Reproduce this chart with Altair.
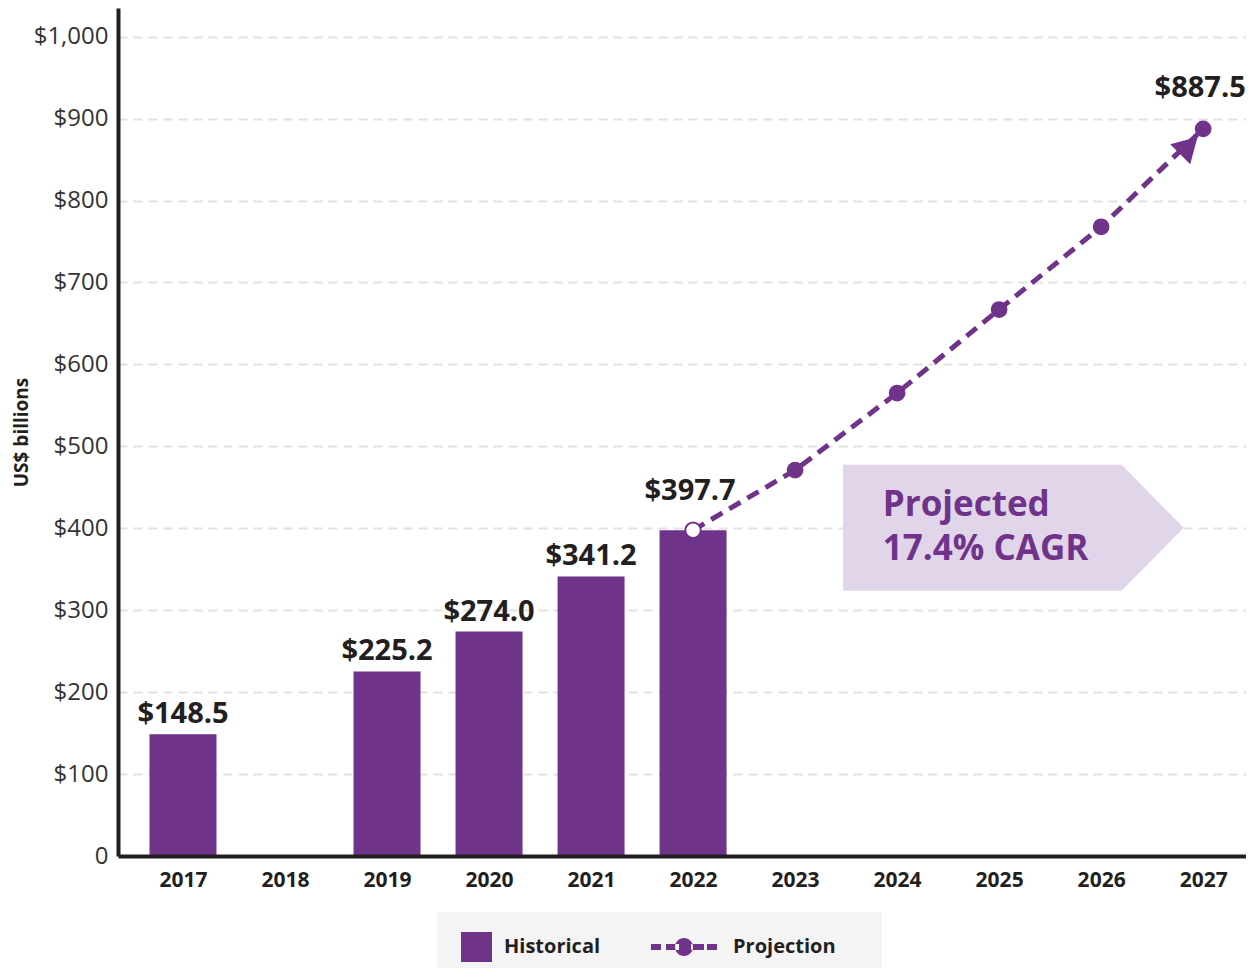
import altair as alt
import pandas as pd

PURPLE = "#70338a"
LIGHT = "#e1d5ea"
DARK = "#231f20"
FONT = "Open Sans"

hist_years = [2017, 2019, 2020, 2021, 2022]
hist_values = [148.5, 225.2, 274.0, 341.2, 397.7]
proj_years = [2022, 2023, 2024, 2025, 2026, 2027]
proj_values = [397.7, 471.0, 565.0, 667.0, 768.0, 887.5]
x_ticks = list(range(2017, 2028))
y_ticks = list(range(0, 1001, 100))
series_names = ["Historical", "Projection"]
cagr_lines = ["Projected", "17.4% CAGR"]
cagr_x = [2023.86, 2023.86]
cagr_y = [428.6, 374.8]
callout_x = [2023.47, 2026.20, 2026.81]
callout_top = [477.4, 477.4, 400.5]
callout_bottom = [323.6, 323.6, 400.5]
arrow_x = [2026.86]
arrow_y = [867.0]

hist_df = pd.DataFrame({"year": hist_years, "value": hist_values})
proj_df = pd.DataFrame({"year": proj_years, "value": proj_values})
callout_df = pd.DataFrame({"year": callout_x, "value": callout_top, "value2": callout_bottom})
cagr_df = pd.DataFrame({"year": cagr_x, "value": cagr_y, "label": cagr_lines})
arrow_df = pd.DataFrame({"year": arrow_x, "value": arrow_y})
legend_df = pd.DataFrame({"series": series_names, "year": [2017, 2017], "value": [0, 0]})

xs = alt.Scale(domain=[2016.363, 2027.42], nice=False, zero=False, padding=0)
ys = alt.Scale(domain=[0, 1035], nice=False, zero=False, padding=0)

SQ_PATH = "M-1.1,-1.5H2.0V1.5H-1.1Z"
PROJ_PATH = ("M-5.0,-0.3H-4.0V0.3H-5.0Z M-3.5,-0.3H-2.2V0.3H-3.5Z "
             "M-1.0,-0.3H0.3V0.3H-1.0Z M0.6,-0.3H1.6V0.3H0.6Z "
             "M-2.6,0A0.9,0.9 0 1,0 -0.8,0A0.9,0.9 0 1,0 -2.6,0Z "
             "M0,-1.5L0,-1.5Z M0,1.5L0,1.5Z M15.6,0L15.6,0Z")

x_axis = alt.Axis(values=x_ticks, format="d", title=None, grid=False,
                  labelFont=FONT, labelFontSize=21, labelFontWeight="bold",
                  labelColor=DARK, labelPadding=13, tickSize=0,
                  domainColor=DARK, domainWidth=4, zindex=1)
y_axis = alt.Axis(values=y_ticks, title="US$ billions",
                  labelExpr="datum.value == 0 ? '0' : '$' + format(datum.value, ',')",
                  labelFont=FONT, labelFontSize=24, labelColor="#333333",
                  labelPadding=10, tickSize=0, domainColor=DARK, domainWidth=4,
                  gridColor="#e2e2e2", gridDash=[9, 6], gridWidth=2,
                  titleFont=FONT, titleFontSize=19, titleFontWeight="bold",
                  titleColor=DARK, titlePadding=2)

bars = alt.Chart(hist_df).mark_bar(size=67, color=PURPLE).encode(
    x=alt.X("year:Q", scale=xs, axis=x_axis),
    y=alt.Y("value:Q", scale=ys, axis=y_axis),
)

callout = alt.Chart(callout_df).mark_area(color=LIGHT, opacity=1).encode(
    x=alt.X("year:Q", scale=xs), y=alt.Y("value:Q", scale=ys), y2="value2:Q"
)

cagr_text = alt.Chart(cagr_df).mark_text(
    align="left", baseline="middle", font=FONT, fontSize=35,
    fontWeight="bold", color=PURPLE
).encode(x=alt.X("year:Q", scale=xs), y=alt.Y("value:Q", scale=ys), text="label:N")

line = alt.Chart(proj_df).mark_line(
    color=PURPLE, strokeWidth=5, strokeDash=[13, 8]
).encode(x=alt.X("year:Q", scale=xs), y=alt.Y("value:Q", scale=ys))

arrow = alt.Chart(arrow_df).mark_point(
    shape="triangle-up", filled=True, size=800, angle=45, color=PURPLE, opacity=1
).encode(x=alt.X("year:Q", scale=xs), y=alt.Y("value:Q", scale=ys))

dots = alt.Chart(proj_df).transform_filter("datum.year > 2022").mark_circle(
    size=280, color=PURPLE, opacity=1
).encode(x=alt.X("year:Q", scale=xs), y=alt.Y("value:Q", scale=ys))

start_dot = alt.Chart(proj_df).transform_filter("datum.year == 2022").mark_point(
    filled=True, fill="white", stroke=PURPLE, strokeWidth=2, size=240, opacity=1
).encode(x=alt.X("year:Q", scale=xs), y=alt.Y("value:Q", scale=ys))

label_base = dict(font=FONT, fontSize=29, fontWeight="bold", color=DARK, baseline="bottom")

bar_labels = alt.Chart(hist_df).transform_filter("datum.year < 2022").transform_calculate(
    label="'$' + format(datum.value, '.1f')"
).mark_text(dy=-5, **label_base).encode(
    x=alt.X("year:Q", scale=xs), y=alt.Y("value:Q", scale=ys), text="label:N"
)

label_2022 = alt.Chart(hist_df).transform_filter("datum.year == 2022").transform_calculate(
    label="'$' + format(datum.value, '.1f')"
).mark_text(dy=-24, dx=-3, **label_base).encode(
    x=alt.X("year:Q", scale=xs), y=alt.Y("value:Q", scale=ys), text="label:N"
)

label_2027 = alt.Chart(proj_df).transform_filter("datum.year == 2027").transform_calculate(
    label="'$' + format(datum.value, '.1f')"
).mark_text(dy=-26, dx=-3, **label_base).encode(
    x=alt.X("year:Q", scale=xs), y=alt.Y("value:Q", scale=ys), text="label:N"
)

leg = alt.Legend(orient="none", legendX=319, legendY=904, direction="horizontal",
                 title=None, fillColor="#f4f4f4", padding=25,
                 labelFont=FONT, labelFontSize=20, labelFontWeight="bold",
                 labelColor=DARK, labelOffset=22, columnPadding=50,
                 symbolSize=400, symbolStrokeWidth=0, symbolOpacity=1)

legend_layer = alt.Chart(legend_df).transform_filter("false").mark_point(
    filled=True, size=400, strokeWidth=0, opacity=1
).encode(
    x=alt.X("year:Q", scale=xs), y=alt.Y("value:Q", scale=ys),
    color=alt.Color("series:N", scale=alt.Scale(domain=series_names, range=[PURPLE, PURPLE]), legend=leg),
    shape=alt.Shape("series:N", scale=alt.Scale(domain=series_names, range=[SQ_PATH, PROJ_PATH]), legend=leg),
)

chart = alt.layer(
    bars, callout, cagr_text, line, arrow, dots, start_dot,
    bar_labels, label_2022, label_2027, legend_layer
).properties(
    width=1128, height=848,
    autosize=alt.AutoSizeParams(type="none"),
    padding={"left": 110, "top": 0, "right": 0, "bottom": 112},
).configure(
    background="white", view=alt.ViewConfig(stroke=None)
)

chart.save("out.html", embed_options={"renderer": "svg", "actions": False})
